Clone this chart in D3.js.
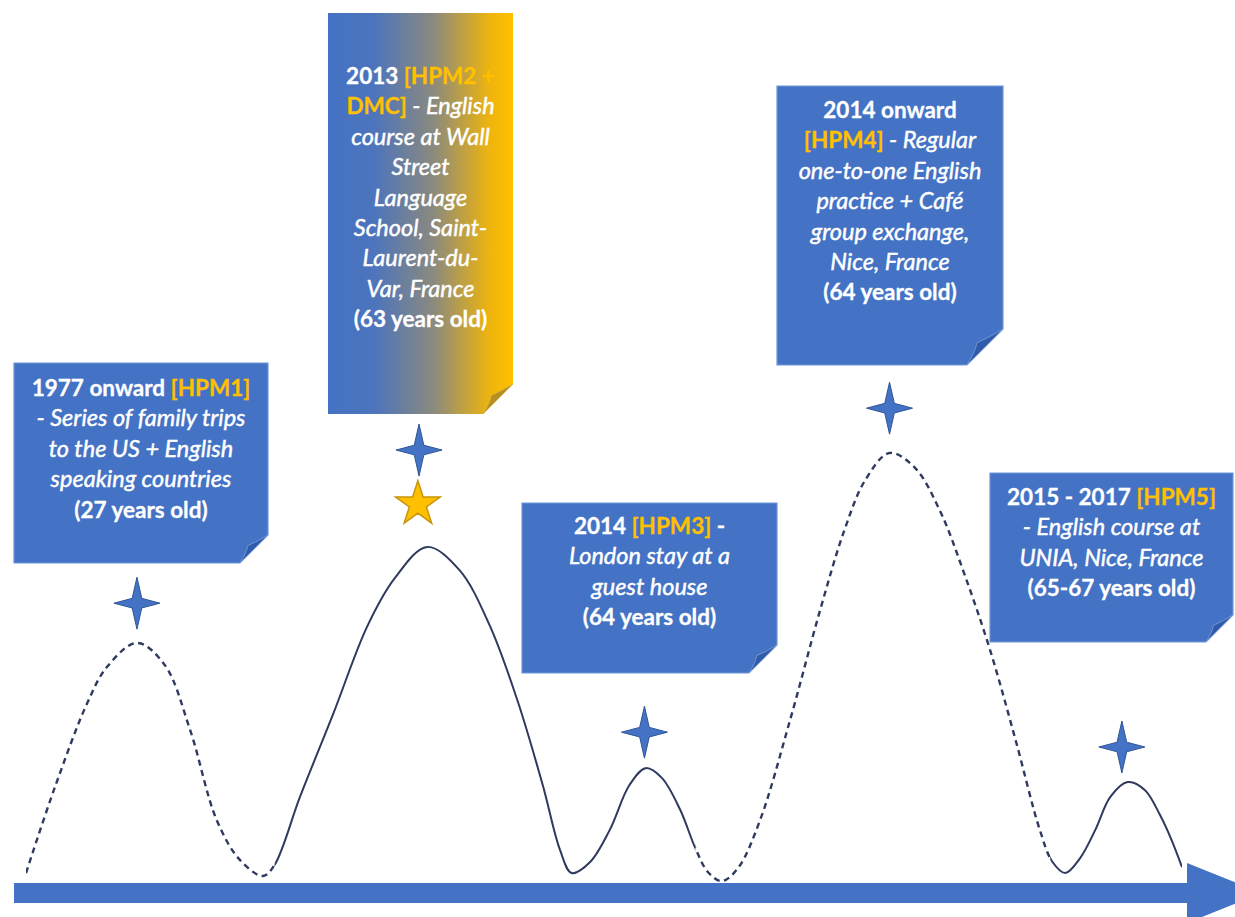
<!DOCTYPE html>
<html>
<head>
<meta charset="utf-8">
<script src="https://cdn.jsdelivr.net/npm/d3@7/dist/d3.min.js"></script>
<style>
  html, body { margin: 0; padding: 0; background: #ffffff; }
  svg { display: block; }
</style>
</head>
<body>
<svg id="chart" width="1235" height="917"></svg>
<script>
// ---------------- DATA ----------------
// Curve knots: position along the timeline (0-100) and level (0-100)
const curveX = [0.0, 2.5, 5.3, 7.0, 9.6, 12.0, 14.2, 16.5, 18.5, 20.5,
  21.5, 23.7, 26.6, 29.5, 31.9, 34.7, 37.5, 40.1, 42.5, 44.7, 46.2, 47.2,
  48.8, 50.5, 52.2, 53.6, 55.0, 56.6, 57.9, 59.0, 60.2,
  61.6, 63.5, 66.1, 68.7, 70.8, 72.6, 74.7, 76.9, 79.1, 81.2, 83.4, 85.6, 87.7, 88.8, 89.9,
  91.2, 92.5, 93.8, 95.3, 96.8, 98.1, 99.1, 100];
const curveLevel = [0.7, 21.0, 40.9, 49.4, 55.1, 49.9, 34.5, 13.2, 3.8, 0,
  2.6, 18.7, 38.5, 58.9, 70.4, 77.8, 72.3, 59.3, 41.6, 21.5, 6.1, 0.7,
  3.3, 10.9, 21.5, 25.5, 23.2, 15.6, 6.6, 0.9, -1.2,
  1.9, 13.2, 36.9, 62.9, 81.8, 93.6, 100, 96.5, 86.1, 71.2, 53.4, 32.2, 10.9, 3.3, 0.7,
  4.3, 10.9, 18.7, 22.2, 20.3, 14.4, 8.5, 2.1];

// Line style segments along the timeline
const segStart = [0, 21.5, 57.9, 88.6];
const segEnd = [21.5, 57.9, 88.6, 100];
const segDashed = [true, false, true, false];

// Four-point stars above each peak
const starX = [9.6, 34.0, 53.5, 74.7, 94.8];
const starLevel = [64.5, 100.7, 34.0, 110.6, 30.5];
// Gold star
const goldStarX = [33.9];
const goldStarLevel = [87.9];

// Event labels
const eventYears = ["1977 onward", "2013", "2014", "2014 onward", "2015 - 2017"];
const eventCodes = ["[HPM1]", "[HPM2 + DMC]", "[HPM3]", "[HPM4]", "[HPM5]"];
const eventAges = ["(27 years old)", "(63 years old)", "(64 years old)", "(64 years old)", "(65-67 years old)"];
// Box lines: [text, kind] where b=bold white, g=bold gold, i=italic white
const boxLines = [
  [[["1977 onward ", "b"], ["[HPM1]", "g"]],
   [["- Series of family trips", "i"]],
   [["to the US + English", "i"]],
   [["speaking countries", "i"]],
   [["(27 years old)", "b"]]],
  [[["2013 ", "b"], ["[HPM2 +", "g"]],
   [["DMC]", "g"], [" - English", "i"]],
   [["course at Wall", "i"]],
   [["Street", "i"]],
   [["Language", "i"]],
   [["School, Saint-", "i"]],
   [["Laurent-du-", "i"]],
   [["Var, France", "i"]],
   [["(63 years old)", "b"]]],
  [[["2014 ", "b"], ["[HPM3]", "g"], [" -", "b"]],
   [["London stay at a", "i"]],
   [["guest house", "i"]],
   [["(64 years old)", "b"]]],
  [[["2014 onward", "b"]],
   [["[HPM4]", "g"], [" - Regular", "i"]],
   [["one-to-one English", "i"]],
   [["practice + Café", "i"]],
   [["group exchange,", "i"]],
   [["Nice, France", "i"]],
   [["(64 years old)", "b"]]],
  [[["2015 - 2017 ", "b"], ["[HPM5]", "g"]],
   [["- English course at", "i"]],
   [["UNIA, Nice, France", "i"]],
   [["(65-67 years old)", "b"]]]
];

// ---------------- LAYOUT ----------------
const W = 1235, H = 917;
const boxLayout = [
  {x: 14, y: 363, w: 254, h: 200, fold: 28, first: 33, grad: false},
  {x: 328, y: 13, w: 185, h: 401, fold: 30, first: 71, grad: true},
  {x: 522, y: 503, w: 255, h: 170, fold: 28, first: 31, grad: false},
  {x: 777, y: 86, w: 226, h: 279, fold: 36, first: 32, grad: false},
  {x: 990, y: 473, w: 243, h: 169, fold: 27, first: 32, grad: false}
];
const lineStep = 30.4;
const BLUE = "#4472C4";
const GOLD = "#FFC000";
const boldSize = 22.5, italicSize = 23.5;

const svg = d3.select("#chart");
const xScale = d3.scaleLinear().domain([0, 100]).range([26, 1182]);
const yScale = d3.scaleLinear().domain([0, 100]).range([876, 453]);

const defs = svg.append("defs");
const grad = defs.append("linearGradient").attr("id", "blueGold")
  .attr("x1", "0%").attr("x2", "100%").attr("y1", "0%").attr("y2", "0%");
grad.append("stop").attr("offset", "0%").attr("stop-color", "#4472C4");
grad.append("stop").attr("offset", "25%").attr("stop-color", "#4D74BC");
grad.append("stop").attr("offset", "57%").attr("stop-color", "#8A8A7E");
grad.append("stop").attr("offset", "88%").attr("stop-color", "#F0B50C");
grad.append("stop").attr("offset", "100%").attr("stop-color", "#FFC000");

// ---------------- ARROW ----------------
const arrowY = 893, barHalf = 10, headHalf = 30, barX0 = 14, headX0 = 1187, tipX = 1262;
svg.append("rect").attr("x", barX0).attr("y", arrowY - barHalf)
  .attr("width", headX0 - barX0 + 1).attr("height", barHalf * 2).attr("fill", BLUE);
svg.append("path")
  .attr("d", `M${headX0},${arrowY - headHalf} L${tipX},${arrowY} L${headX0},${arrowY + headHalf} Z`)
  .attr("fill", BLUE);

// ---------------- CURVE ----------------
const pts = curveX.map((v, i) => [v, curveLevel[i]]);
const lineGen = d3.line().x(d => xScale(d[0])).y(d => yScale(d[1])).curve(d3.curveCatmullRom.alpha(0.5));
const pathD = lineGen(pts);

segStart.forEach((s, i) => {
  const cid = "seg" + i;
  defs.append("clipPath").attr("id", cid).append("rect")
    .attr("x", xScale(s)).attr("y", 0)
    .attr("width", xScale(segEnd[i]) - xScale(s)).attr("height", H);
  svg.append("path").attr("d", pathD)
    .attr("clip-path", `url(#${cid})`)
    .attr("fill", "none")
    .attr("stroke", "#2E3A5E")
    .attr("stroke-width", segDashed[i] ? 2.4 : 2)
    .attr("stroke-dasharray", segDashed[i] ? "6,4.5" : null);
});

// ---------------- BOXES ----------------
boxLayout.forEach((b, i) => {
  const g = svg.append("g");
  const R = b.x + b.w, B = b.y + b.h, f = b.fold;
  g.append("path")
    .attr("d", `M${b.x},${b.y} L${R},${b.y} L${R},${B - f} L${R - f},${B} L${b.x},${B} Z`)
    .attr("fill", b.grad ? "url(#blueGold)" : BLUE)
    .attr("stroke", b.grad ? "none" : "#6E95DA")
    .attr("stroke-width", 1.2);
  // folded corner
  g.append("path")
    .attr("d", `M${R - f},${B} Q${R - f * 0.78},${B - f * 0.35} ${R - f * 0.72},${B - f * 0.62} Q${R - f * 0.35},${B - f * 0.78} ${R},${B - f} Z`)
    .attr("fill", b.grad ? "#B58F24" : "#2F5BA8")
    .attr("stroke", b.grad ? "#D8B040" : "#7D9FDC")
    .attr("stroke-width", 0.8);

  const cx = b.x + b.w / 2;
  boxLines[i].forEach((line, j) => {
    const t = g.append("text")
      .attr("x", cx)
      .attr("y", b.y + b.first + j * lineStep)
      .attr("text-anchor", "middle")
      .attr("font-family", "Lato, 'Open Sans', sans-serif")
      .attr("xml:space", "preserve");
    line.forEach(([txt, kind]) => {
      const col = kind === "g" ? GOLD : "#ffffff";
      t.append("tspan").text(txt)
        .attr("fill", col)
        .attr("stroke", col)
        .attr("stroke-width", kind === "i" ? 0.45 : 0.3)
        .attr("font-size", kind === "i" ? italicSize : boldSize)
        .attr("font-weight", kind === "i" ? "normal" : "bold")
        .attr("font-style", kind === "i" ? "italic" : "normal")
        .style("white-space", "pre");
    });
  });
});

// ---------------- STARS ----------------
function fourStar(cx, cy, rx, ry, c) {
  return `M${cx},${cy - ry} L${cx + c},${cy - c} L${cx + rx},${cy} L${cx + c},${cy + c} L${cx},${cy + ry} ` +
         `L${cx - c},${cy + c} L${cx - rx},${cy} L${cx - c},${cy - c} Z`;
}
svg.selectAll("path.star4").data(starX).enter().append("path")
  .attr("class", "star4")
  .attr("d", (d, i) => fourStar(xScale(d), yScale(starLevel[i]), 23, 26, 4.8))
  .attr("fill", BLUE)
  .attr("stroke", "#2F5597")
  .attr("stroke-width", 1)
  .attr("stroke-linejoin", "round");

const starSym = d3.symbol().type(d3.symbolStar).size(620);
svg.selectAll("path.gold").data(goldStarX).enter().append("path")
  .attr("class", "gold")
  .attr("d", starSym)
  .attr("transform", (d, i) => `translate(${xScale(d)},${yScale(goldStarLevel[i])})`)
  .attr("fill", GOLD)
  .attr("stroke", "#C8940A")
  .attr("stroke-width", 1.5);
</script>
</body>
</html>
